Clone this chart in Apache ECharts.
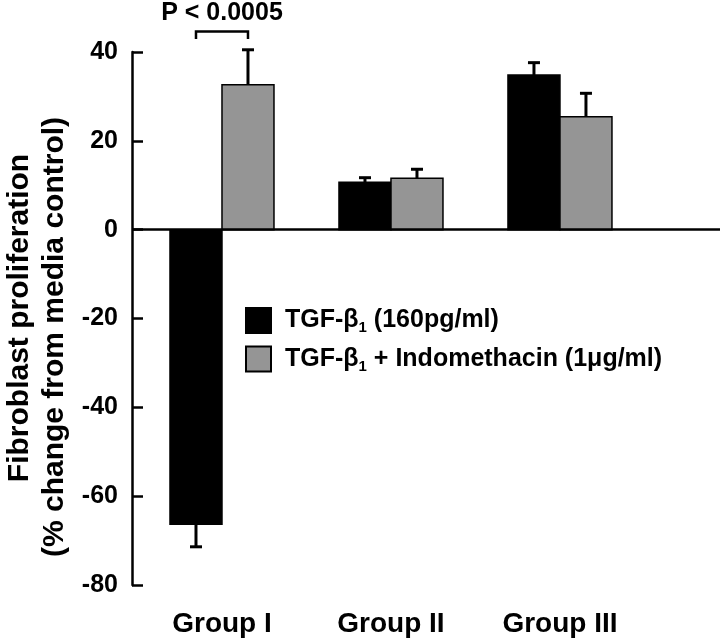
<!DOCTYPE html>
<html>
<head>
<meta charset="utf-8">
<script src="https://cdn.jsdelivr.net/npm/echarts@6/dist/echarts.min.js"></script>
<style>html,body{margin:0;padding:0;background:#fff;}#c{width:720px;height:643px;}</style>
</head>
<body>
<div id="c"></div>
<script>
const categories = ['Group I', 'Group II', 'Group III'];
const tgfValues = [-66.3, 10.7, 34.8];
const tgfErrors = [5.1, 1.0, 2.8];
const indoValues = [32.6, 11.6, 25.4];
const indoErrors = [7.9, 2.0, 5.3];
const yTicks = [-80, -60, -40, -20, 0, 20, 40];
const seriesNames = ['TGF-β1 (160pg/ml)', 'TGF-β1 + Indomethacin (1μg/ml)'];
const pText = 'P < 0.0005';
const bracketLevel = [44.6, 42.9];
const pTextLevel = 48.7;

const FONT = "'Liberation Sans', Arial, sans-serif";
const BAR_FRAC = 52 / 169;

function barSeries(name, vals, errs, side, color) {
  return {
    type: 'custom',
    name: name,
    itemStyle: { color: color, borderColor: '#000', borderWidth: 1 },
    data: vals.map((v, i) => [i + 1, v, errs[i]]),
    renderItem: function (params, api) {
      const x = api.value(0), v = api.value(1), e = api.value(2);
      const p0 = api.coord([x, 0]);
      const p1 = api.coord([x, v]);
      const pe = api.coord([x, v < 0 ? v - e : v + e]);
      const w = api.size([1, 0])[0] * BAR_FRAC;
      const left = side === 0 ? p0[0] - w : p0[0];
      const cx = left + w / 2;
      return {
        type: 'group',
        children: [
          { type: 'rect', shape: { x: left, y: Math.min(p0[1], p1[1]), width: w, height: Math.abs(p1[1] - p0[1]) },
            style: { fill: color, stroke: '#000', lineWidth: 1.5 } },
          { type: 'line', shape: { x1: cx, y1: p1[1], x2: cx, y2: pe[1] }, style: { stroke: '#000', lineWidth: 3 } },
          { type: 'line', shape: { x1: cx - 6, y1: pe[1], x2: cx + 6, y2: pe[1] }, style: { stroke: '#000', lineWidth: 3 } }
        ]
      };
    }
  };
}

const chart = echarts.init(document.getElementById('c'));
const s1 = barSeries(seriesNames[0], tgfValues, tgfErrors, 0, '#000000');
s1.markLine = {
  silent: true, symbol: 'none', label: { show: false },
  lineStyle: { color: '#000', width: 2.5, type: 'solid' },
  data: [{ yAxis: 0 }]
};
const s2 = barSeries(seriesNames[1], indoValues, indoErrors, 1, '#959595');

const annot = {
  type: 'custom',
  name: 'annot',
  clip: false,
  data: [[1, bracketLevel[0], bracketLevel[1], pTextLevel]],
  renderItem: function (params, api) {
    const x = api.value(0);
    const top = api.coord([x, api.value(1)]);
    const leg = api.coord([x, api.value(2)]);
    const tp = api.coord([x, api.value(3)]);
    const w = api.size([1, 0])[0] * BAR_FRAC;
    const xl = top[0] - w / 2, xr = top[0] + w / 2;
    return {
      type: 'group',
      children: [
        { type: 'polyline', shape: { points: [[xl, leg[1]], [xl, top[1]], [xr, top[1]], [xr, leg[1]]] },
          style: { stroke: '#000', lineWidth: 2.5, fill: null } },
        { type: 'text', style: { text: pText, x: tp[0], y: tp[1], align: 'center', verticalAlign: 'middle',
          font: 'bold 25px ' + FONT, fill: '#000' } }
      ]
    };
  }
};

chart.setOption({
  animation: false,
  grid: { left: 132, right: 0, top: 52, bottom: 58 },
  xAxis: {
    type: 'value', min: 0.4675, max: 3.947,
    axisLine: { show: false }, axisTick: { show: false }, splitLine: { show: false },
    axisLabel: {
      customValues: [1, 2, 3],
      formatter: v => categories[Math.round(v) - 1] || '',
      fontSize: 28, fontWeight: 'bold', fontFamily: FONT, color: '#000', margin: 25
    }
  },
  yAxis: {
    type: 'value', min: yTicks[0], max: yTicks[yTicks.length - 1], interval: 20,
    axisLine: { show: true, lineStyle: { color: '#000', width: 2.5 } },
    axisTick: { show: true, inside: true, length: 11, lineStyle: { color: '#000', width: 2.5 } },
    splitLine: { show: false },
    axisLabel: { fontSize: 25, fontWeight: 'bold', fontFamily: FONT, color: '#000', margin: 14 }
  },
  legend: {
    data: seriesNames,
    orient: 'vertical', left: 240, top: 302,
    itemWidth: 25, itemHeight: 25, itemGap: 10,
    icon: 'rect',
    formatter: name => {
      const i = name.indexOf('β1');
      return '{m|' + name.slice(0, i) + 'β}{sub|1}{m|' + name.slice(i + 2) + '}';
    },
    textStyle: {
      color: '#000', fontFamily: FONT, fontWeight: 'bold', fontSize: 25, padding: [0, 0, 0, 9],
      rich: {
        m: { fontSize: 25, fontWeight: 'bold', fontFamily: FONT, color: '#000', lineHeight: 30 },
        sub: { fontSize: 15, fontWeight: 'bold', fontFamily: FONT, color: '#000', lineHeight: 15, verticalAlign: 'bottom' }
      }
    }
  },
  graphic: [
    { type: 'text', x: 20, y: 318, rotation: Math.PI / 2,
      style: { text: 'Fibroblast proliferation', x: 0, y: 0, textAlign: 'center', textVerticalAlign: 'middle',
        font: 'bold 30px ' + FONT, fill: '#000' } },
    { type: 'text', x: 55, y: 337, rotation: Math.PI / 2,
      style: { text: '(% change from media control)', x: 0, y: 0, textAlign: 'center', textVerticalAlign: 'middle',
        font: 'bold 30px ' + FONT, fill: '#000' } }
  ],
  series: [s1, s2, annot]
});
</script>
</body>
</html>
